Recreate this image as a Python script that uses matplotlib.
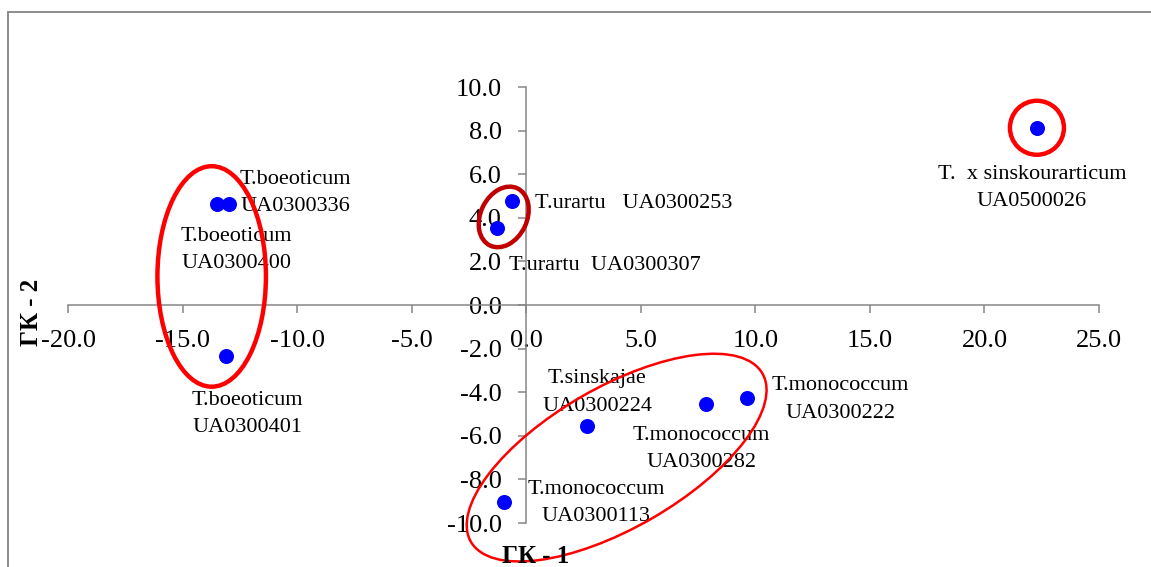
import matplotlib
matplotlib.use("Agg")
import matplotlib.pyplot as plt
from matplotlib.patches import Ellipse, Rectangle
from matplotlib.transforms import ScaledTranslation, IdentityTransform
from matplotlib.ticker import FormatStrFormatter

plt.rcParams["font.family"] = ["Liberation Serif", "DejaVu Serif"]

# Principal component scores of the wheat accessions
accessions = [
    "T.boeoticum\nUA0300336",
    "T.boeoticum\nUA0300400",
    "T.boeoticum\nUA0300401",
    "T.urartu   UA0300253",
    "T.urartu  UA0300307",
    "T.sinskajae\nUA0300224",
    "T.monococcum\nUA0300282",
    "T.monococcum\nUA0300222",
    "T.monococcum\nUA0300113",
    "T.  x sinskourarticum\nUA0500026",
]
gk1 = [-13.5, -13.0, -13.1, -0.65, -1.30, 2.66, 7.82, 9.64, -0.97, 22.29]
gk2 = [4.62, 4.62, -2.33, 4.77, 3.55, -5.53, -4.54, -4.25, -9.05, 8.13]

x_ticks = [-20.0, -15.0, -10.0, -5.0, 0.0, 5.0, 10.0, 15.0, 20.0, 25.0]
y_ticks = [-10.0, -8.0, -6.0, -4.0, -2.0, 0.0, 2.0, 4.0, 6.0, 8.0, 10.0]

# label placement: offset in pixels from the point, horizontal alignment
label_offsets = [
    (22.7, 11, "left"),
    (8, -46, "center"),
    (21, -58, "center"),
    (23.5, -2, "left"),
    (12.4, -38, "left"),
    (10, 33, "center"),
    (-4.5, -45, "center"),
    (24.5, -2, "left"),
    (23.5, -1, "left"),
    (-5, -60, "center"),
]

# group outlines: centre (data), width/height (pixels), angle, colour, line width
groups = [
    ((-13.74, 1.31), 108.5, 220.5, 0, "#FF0000", 3.2),
    ((-0.99, 4.04), 63.4, 46.4, 64.4, "#C00000", 3.2),
    ((3.94, -7.0), 336.6, 140.6, 30, "#FF0000", 1.8),
    ((22.29, 8.13), 54, 54, 0, "#FF0000", 3.2),
]

W, H, DPI = 1151, 567, 100
fig = plt.figure(figsize=(W / DPI, H / DPI), dpi=DPI)
ax = fig.add_axes([68.3 / W, 44 / H, 1030.7 / W, 436 / H])

axis_grey = "#868686"
for side in ("top", "right"):
    ax.spines[side].set_visible(False)
for side in ("left", "bottom"):
    ax.spines[side].set_position(("data", 0))
    ax.spines[side].set_color(axis_grey)
    ax.spines[side].set_linewidth(1.1)

ax.set_xlim(x_ticks[0], x_ticks[-1])
ax.set_ylim(y_ticks[0], y_ticks[-1])
ax.set_xticks(x_ticks)
ax.set_yticks(y_ticks)
ax.xaxis.set_major_formatter(FormatStrFormatter("%.1f"))
ax.yaxis.set_major_formatter(FormatStrFormatter("%.1f"))
ax.tick_params(direction="out", length=5.8, width=1.1, color=axis_grey,
               labelsize=19, pad=12.0, labelcolor="black")
ax.patch.set_visible(False)

ax.scatter(gk1, gk2, s=117, c="#0000FF", zorder=3, clip_on=False, linewidths=0)

for name, x, y, (dx, dy, ha) in zip(accessions, gk1, gk2, label_offsets):
    ax.annotate(name, (x, y), xytext=(dx, dy), textcoords="offset pixels",
                ha=ha, va="center", multialignment="center",
                fontsize=16, linespacing=1.6, annotation_clip=False)

for (cx, cy), w, h, ang, col, lw in groups:
    tr = ScaledTranslation(cx, cy, ax.transData)
    ax.add_patch(Ellipse((0, 0), w, h, angle=ang, transform=tr, fill=False,
                         edgecolor=col, linewidth=lw, clip_on=False, zorder=4))

fig.text(535.5 / W, 4 / H, "ГК - 1", ha="center", va="baseline",
         fontsize=18, fontweight="bold")
fig.text(31 / W, (H - 312) / H, "ГК - 2", ha="center", va="center",
         rotation=90, fontsize=18, fontweight="bold")

frame = Rectangle((8.3, -20), 1300, H - 12 + 20, transform=IdentityTransform(),
                  fill=False, edgecolor="#8c8c8c", linewidth=1.4)
fig.add_artist(frame)

fig.savefig("out.png", dpi=DPI)
